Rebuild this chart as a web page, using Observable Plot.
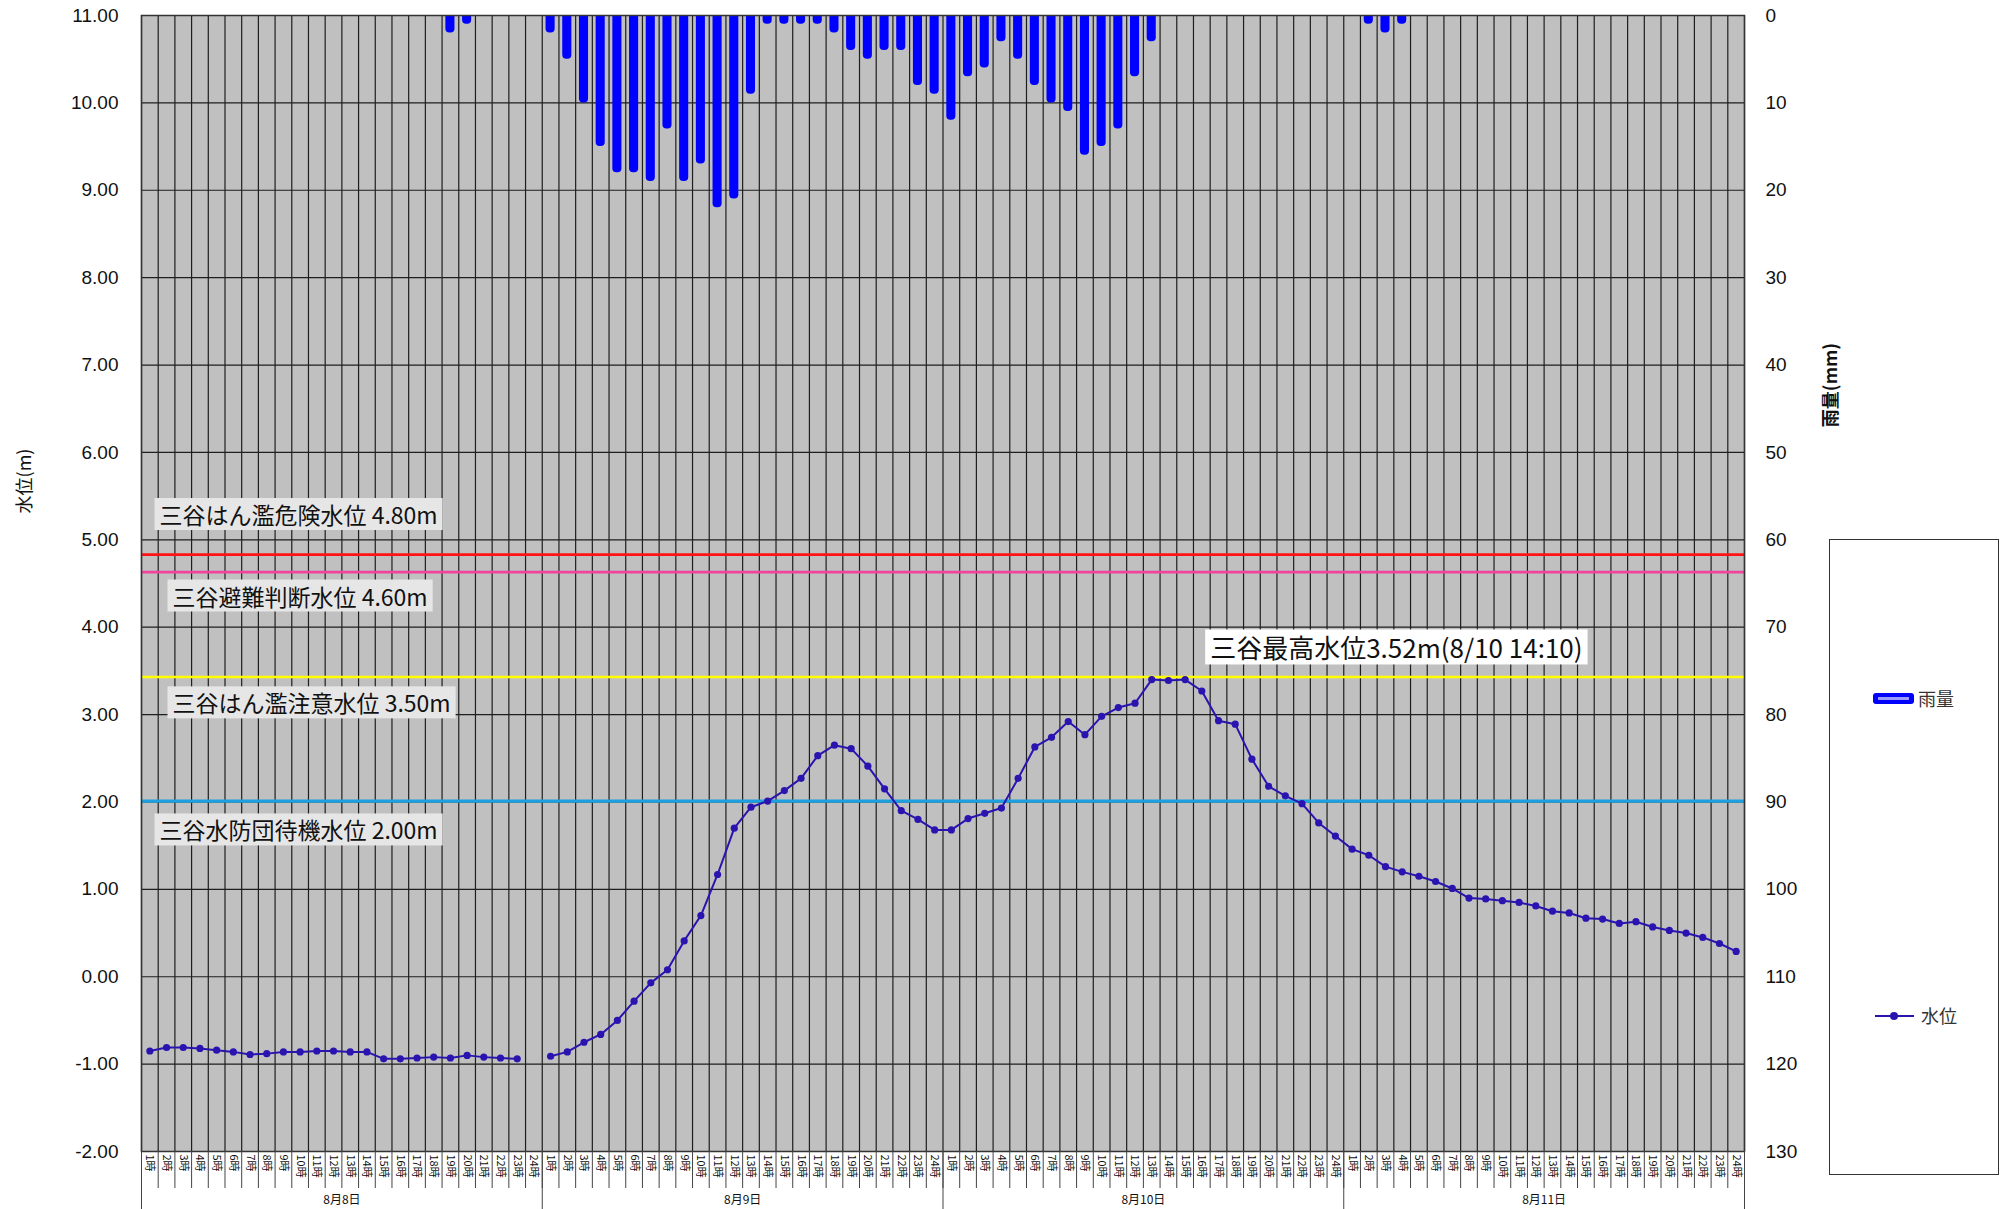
<!DOCTYPE html>
<html><head><meta charset="utf-8">
<script src="https://cdn.jsdelivr.net/npm/d3@7"></script>
<script src="https://cdn.jsdelivr.net/npm/@observablehq/plot@0.6"></script>
<style>
body{margin:0;background:#fff;}
#wrap{position:relative;width:2013px;height:1209px;}
#wrap svg{position:absolute;left:0;top:0;}
#legend{position:absolute;left:1829px;top:539px;width:170px;height:636px;border:1px solid #333;background:#fff;box-sizing:border-box;font-family:"Noto Sans CJK JP",sans-serif;color:#333;font-size:18px;}
.sw-rain{position:absolute;left:43px;width:41px;height:11px;background:#0000ff;border-radius:3px;}
.sw-rain::after{content:"";position:absolute;left:5px;right:5px;top:4px;height:3px;background:#9a9aff;}
.sw-level{position:absolute;left:45px;width:39px;height:2px;background:#2a14b0;}
.sw-level::after{content:"";position:absolute;left:15px;top:-3px;width:8px;height:8px;border-radius:50%;background:#2a14b0;}
.lbl{position:absolute;white-space:nowrap;}
.ytitle{position:absolute;font-family:"Noto Sans CJK JP",sans-serif;font-size:18px;color:#111;white-space:nowrap;transform:translate(-50%,-50%) rotate(-90deg);}
</style></head><body>
<div id="wrap">
  <div id="legend">
    <div class="sw-rain" style="top:153px"></div><div class="lbl" style="left:88px;top:145px">雨量</div>
    <div class="sw-level" style="top:475px"></div><div class="lbl" style="left:91px;top:462px">水位</div>
  </div>
  <div class="ytitle" id="leftTitle" style="left:23px;top:481px"></div>
  <div class="ytitle" id="rightTitle" style="left:1829px;top:385px;font-weight:bold"></div>
</div>
<script>
// ---- data ----
const days = ["8月8日", "8月9日", "8月10日", "8月11日"];
const hours = d3.range(1, 25).map(h => h + "時");

// hourly rainfall (mm), 96 hours from 8/8 1時
const rainfall = [
  0,0,0,0,0,0,0,0,0,0,0,0,0,0,0,0,0,0,2,1,0,0,0,0,
  2,5,10,15,18,18,19,13,19,17,22,21,9,1,1,1,1,2,4,5,4,4,8,9,
  12,7,6,3,5,8,10,11,16,15,13,7,3,0,0,0,0,0,0,0,0,0,0,0,
  0,1,2,1,0,0,0,0,0,0,0,0,0,0,0,0,0,0,0,0,0,0,0,0
];

// hourly water level (m), null = missing
const waterLevel = [
  -0.85,-0.81,-0.81,-0.82,-0.84,-0.86,-0.89,-0.88,-0.86,-0.86,-0.85,-0.85,
  -0.86,-0.86,-0.94,-0.94,-0.93,-0.92,-0.93,-0.90,-0.92,-0.93,-0.94,null,
  -0.91,-0.86,-0.75,-0.66,-0.50,-0.28,-0.07,0.08,0.41,0.70,1.17,1.70,
  1.94,2.01,2.13,2.27,2.53,2.65,2.61,2.41,2.15,1.90,1.80,1.68,
  1.68,1.81,1.87,1.93,2.27,2.63,2.74,2.92,2.77,2.98,3.08,3.13,
  3.40,3.39,3.40,3.27,2.93,2.89,2.49,2.18,2.07,1.98,1.76,1.61,
  1.46,1.39,1.26,1.20,1.15,1.09,1.01,0.90,0.89,0.87,0.85,0.81,
  0.75,0.73,0.67,0.66,0.61,0.63,0.57,0.53,0.50,0.45,0.38,0.29
];

const thresholdLabels = ["三谷はん濫危険水位 4.80m", "三谷避難判断水位 4.60m", "三谷はん濫注意水位 3.50m", "三谷水防団待機水位 2.00m"];
const thresholdLevels = [4.83, 4.63, 3.43, 2.01];   // as drawn in the chart
const thresholdColors = ["#ff1414", "#f0449a", "#ffff00", "#1ea0e0"];

const maxLabel = "三谷最高水位3.52m(8/10 14:10)";
const maxLevel = 3.52;
const maxIndex = 64;

const levelTicks = d3.range(-2, 12);      // -2 .. 11
const rainMax = 130;                       // right axis 0 (top) .. 130 (bottom)
const levelTitle = "水位(m)";
const rainTitle = "雨量(mm)";

// ---- build ----
document.getElementById("leftTitle").textContent = levelTitle;
document.getElementById("rightTitle").textContent = rainTitle;

const yTop = 11, yBottom = -2;
const rainToY = r => yTop - r * (yTop - yBottom) / rainMax;
const rows = d3.range(96).map(i => ({i, rain: rainfall[i], level: waterLevel[i]}));

const labelStyles = [
  {dx: 18, dy: -38}, {dx: 31, dy: 26}, {dx: 31, dy: 28}, {dx: 18, dy: 31}
];

const font = "'Noto Sans CJK JP', sans-serif";
const numFont = "'Liberation Sans', Arial, sans-serif";

const chart = Plot.plot({
  width: 2013, height: 1209,
  marginLeft: 141, marginRight: 269, marginTop: 15, marginBottom: 58,
  style: {fontFamily: numFont, background: "transparent", color: "#111"},
  x: {type: "linear", domain: [0, 96]},
  y: {domain: [yBottom, yTop]},
  marks: [
    Plot.frame({fill: "#c0c0c0", stroke: null}),
    Plot.ruleX(d3.range(97), {stroke: "#1e1e1e", strokeWidth: 1.2}),
    Plot.ruleY(levelTicks, {stroke: "#1e1e1e", strokeWidth: 1.2}),
    Plot.rectY(rows.filter(d => d.rain > 0), {
      x1: d => d.i, x2: d => d.i + 1,
      y1: () => rainToY(-3), y2: d => rainToY(d.rain),
      fill: "#0000ff", insetLeft: 3.8, insetRight: 3.8, rx: 4, clip: true
    }),
    Plot.ruleY(thresholdLevels, {y: d => d, stroke: (d, i) => thresholdColors[i], strokeWidth: (d, i) => i === 3 ? 3.2 : 2.6}),
    Plot.line(rows, {x: d => d.i + 0.5, y: "level", stroke: "#2a14b0", strokeWidth: 2}),
    Plot.dot(rows.filter(d => d.level != null), {x: d => d.i + 0.5, y: "level", r: 3.6, fill: "#2a14b0", stroke: null}),
    Plot.frame({stroke: "#333", strokeWidth: 1.5}),
    ...thresholdLabels.map((t, k) => Plot.text([t], {
      x: () => 0, y: () => thresholdLevels[k], text: d => d,
      textAnchor: "start", dx: labelStyles[k].dx, dy: labelStyles[k].dy,
      fontSize: 23, fontFamily: font, fill: "#111"
    })),
    Plot.text([maxLabel], {
      x: () => maxIndex, y: () => maxLevel, text: d => d, textAnchor: "start",
      dy: -19, fontSize: 26, fontFamily: font, fill: "#111"
    }),
    Plot.axisY(levelTicks, {
      anchor: "left", tickSize: 0, tickPadding: 23, fontSize: 19,
      tickFormat: d => d3.format(".2f")(d).replace("−", "-"), label: null
    }),
    Plot.axisY(levelTicks, {
      anchor: "right", tickSize: 0, tickPadding: 21, fontSize: 19,
      tickFormat: d => String(Math.round((yTop - d) * rainMax / (yTop - yBottom))), label: null
    }),
    Plot.axisX(d3.range(97), {tickSize: 37, tickFormat: () => "", stroke: "#444", label: null}),
    Plot.axisX(d3.range(0, 97, 24), {tickSize: 58, tickFormat: () => "", stroke: "#444", label: null}),
    Plot.axisX(d3.range(96).map(i => i + 0.5), {
      tickSize: 0, tickPadding: 3, tickRotate: 90, fontSize: 11,
      tickFormat: d => hours[Math.floor(d) % 24], label: null, fontFamily: font
    }),
    Plot.axisX(days.map((d, k) => k * 24 + 12), {
      tickSize: 0, tickPadding: 44, fontSize: 12,
      tickFormat: d => days[(d - 12) / 24], label: null, fontFamily: font
    })
  ]
});

document.getElementById("wrap").prepend(chart);

function addBoxes(texts, fill, px, py) {
  chart.querySelectorAll("text").forEach(t => {
    if (!texts.includes(t.textContent)) return;
    const b = t.getBBox();
    const r = document.createElementNS("http://www.w3.org/2000/svg", "rect");
    r.setAttribute("x", b.x - px);
    r.setAttribute("y", b.y - py);
    r.setAttribute("width", b.width + 2 * px);
    r.setAttribute("height", b.height + 2 * py);
    r.setAttribute("fill", fill);
    r.setAttribute("stroke", "none");
    const tr = t.getAttribute("transform");
    if (tr) r.setAttribute("transform", tr);
    t.parentNode.insertBefore(r, t);
  });
}
addBoxes(thresholdLabels, "#e6e6e6", 5, -1);
addBoxes([maxLabel], "#ffffff", 5, -1);
</script>
</body></html>
